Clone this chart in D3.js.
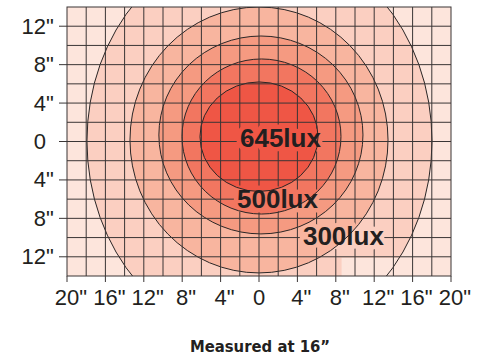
<!DOCTYPE html>
<html><head><meta charset="utf-8">
<script src="https://cdn.jsdelivr.net/npm/d3@7"></script>
<style>body{margin:0;background:#fff}</style>
</head><body><svg id="chart" width="482" height="360"></svg>
<script>
// ---- data ----
const xTickValues = [-20, -16, -12, -8, -4, 0, 4, 8, 12, 16, 20];
const xTickLabels = ['20"', '16"', '12"', '8"', '4"', '0', '4"', '8"', '12"', '16"', '20"'];
const yTickValues = [12, 8, 4, 0, -4, -8, -12];
const yTickLabels = ['12"', '8"', '4"', '0', '4"', '8"', '12"'];
const gridStep = 2; // inches
// iso-lux contours, outer -> inner (inches)
const contourLux = [200, 300, 400, 500, 600];
const contourCx = [0.05, 0.0, 0.2, 0.26, 0.0];
const contourCy = [0.05, 0.16, 0.68, 0.52, 0.5];
const contourRx = [17.97, 13.44, 10.63, 8.28, 6.15];
const contourRy = [20.8, 13.84, 10.3, 8.07, 5.7];
const labelText = ['645lux', '500lux', '300lux'];
const labelX = [-1.98, -2.29, 4.58];
const labelY = [-0.57, -6.92, -10.77];
const patchX = [8.6, 20];
const patchY = [-12.1, -14];
const titleText = 'Measured at 16\u201D';

// ---- styles ----
const bandColors = ['#fde5dc', '#fbcfc1', '#f8b59f', '#f59a81', '#f27660', '#ef5645'];
const ink = '#231f20';
const gridColor = '#3a3535';

const svg = d3.select('#chart');
const W = 482, H = 360;
const plot = {left: 67, right: 451, top: 7, bottom: 276};
const x = d3.scaleLinear().domain([-20, 20]).range([plot.left, plot.right]);
const y = d3.scaleLinear().domain([-14, 14]).range([plot.bottom, plot.top]);

const defs = svg.append('defs');
defs.append('clipPath').attr('id', 'plotClip').append('rect')
  .attr('x', plot.left).attr('y', plot.top)
  .attr('width', plot.right - plot.left).attr('height', plot.bottom - plot.top);

// background band
const g = svg.append('g').attr('clip-path', 'url(#plotClip)');
g.append('rect').attr('x', plot.left).attr('y', plot.top)
  .attr('width', plot.right - plot.left).attr('height', plot.bottom - plot.top)
  .attr('fill', bandColors[0]);

const contours = contourLux.map((v, i) => ({lux: v, cx: contourCx[i], cy: contourCy[i], rx: contourRx[i], ry: contourRy[i], i}));
g.selectAll('ellipse.fill').data(contours).join('ellipse')
  .attr('class', 'fill')
  .attr('cx', d => x(d.cx)).attr('cy', d => y(d.cy))
  .attr('rx', d => x(d.rx) - x(0)).attr('ry', d => y(0) - y(d.ry))
  .attr('fill', d => bandColors[d.i + 1]);

// pale patch (as in source)
g.append('rect')
  .attr('x', x(patchX[0])).attr('y', y(patchY[0]))
  .attr('width', x(patchX[1]) - x(patchX[0])).attr('height', y(patchY[1]) - y(patchY[0]))
  .attr('fill', bandColors[0]);

// label style
const labelFont = {family: 'Liberation Sans, Arial, sans-serif', size: 26, weight: 'bold'};

// grid mask so grid is hidden around labels
const mask = defs.append('mask').attr('id', 'gridMask').attr('maskUnits', 'userSpaceOnUse')
  .attr('x', 0).attr('y', 0).attr('width', W).attr('height', H);
mask.append('rect').attr('width', W).attr('height', H).attr('fill', 'white');
labelText.forEach((t, i) => {
  mask.append('text').text(t)
    .attr('x', x(labelX[i])).attr('y', y(labelY[i]))
    .attr('font-family', labelFont.family).attr('font-size', labelFont.size).attr('font-weight', labelFont.weight)
    .attr('fill', 'black').attr('stroke', 'black').attr('stroke-width', 9).attr('stroke-linejoin', 'round');
});

// grid
const gridG = svg.append('g').attr('mask', 'url(#gridMask)');
const xGrid = d3.range(-20 + gridStep, 20, gridStep);
const yGrid = d3.range(-14 + gridStep, 14, gridStep);
gridG.selectAll('line.vx').data(xGrid).join('line')
  .attr('x1', d => x(d)).attr('x2', d => x(d)).attr('y1', plot.top).attr('y2', plot.bottom)
  .attr('stroke', gridColor).attr('stroke-width', 1);
gridG.selectAll('line.hy').data(yGrid).join('line')
  .attr('y1', d => y(d)).attr('y2', d => y(d)).attr('x1', plot.left).attr('x2', plot.right)
  .attr('stroke', gridColor).attr('stroke-width', 1);

// contour lines
g.selectAll('ellipse.line').data(contours).join('ellipse')
  .attr('class', 'line')
  .attr('cx', d => x(d.cx)).attr('cy', d => y(d.cy))
  .attr('rx', d => x(d.rx) - x(0)).attr('ry', d => y(0) - y(d.ry))
  .attr('fill', 'none').attr('stroke', '#2a2626').attr('stroke-width', 1);

// frame
svg.append('rect').attr('x', plot.left).attr('y', plot.top)
  .attr('width', plot.right - plot.left).attr('height', plot.bottom - plot.top)
  .attr('fill', 'none').attr('stroke', gridColor).attr('stroke-width', 1);

// ticks
svg.selectAll('line.yt').data(yTickValues).join('line')
  .attr('x1', plot.left - 8).attr('x2', plot.left).attr('y1', d => y(d)).attr('y2', d => y(d))
  .attr('stroke', gridColor).attr('stroke-width', 1);
svg.selectAll('line.xt').data(xTickValues).join('line')
  .attr('y1', plot.bottom).attr('y2', plot.bottom + 6).attr('x1', d => x(d)).attr('x2', d => x(d))
  .attr('stroke', gridColor).attr('stroke-width', 1);

// measuring helper
function measure(str, size, family, weight) {
  const t = svg.append('text').text(str).attr('font-size', size).attr('font-family', family)
    .attr('font-weight', weight || 'normal');
  const w = t.node().getComputedTextLength();
  t.remove();
  return w;
}
const tickFamily = 'Liberation Sans, Arial, Helvetica, sans-serif';

// y tick labels: numbers right-aligned, inch mark hanging after
const ySize = 22;
yTickValues.forEach((v, i) => {
  const lab = yTickLabels[i];
  const num = lab.replace('"', '');
  const nw = measure(num, ySize, tickFamily);
  svg.append('text').text(lab)
    .attr('x', 46 - nw).attr('y', y(v) + 7.5)
    .attr('font-size', ySize).attr('font-family', tickFamily).attr('fill', ink);
});

// x tick labels: numbers centered on tick, inch mark hanging after
const xSize = 22;
xTickValues.forEach((v, i) => {
  const lab = xTickLabels[i];
  const num = lab.replace('"', '');
  const nw = measure(num, xSize, tickFamily);
  svg.append('text').text(lab)
    .attr('x', x(v) - nw / 2).attr('y', 305)
    .attr('font-size', xSize).attr('font-family', tickFamily).attr('fill', ink);
});

// contour labels
labelText.forEach((t, i) => {
  svg.append('text').text(t)
    .attr('x', x(labelX[i])).attr('y', y(labelY[i]))
    .attr('font-family', labelFont.family).attr('font-size', labelFont.size).attr('font-weight', labelFont.weight)
    .attr('fill', ink);
});

// title
svg.append('text').text(titleText)
  .attr('x', 260).attr('y', 352).attr('text-anchor', 'middle')
  .attr('font-family', 'Liberation Sans Narrow, DejaVu Sans Condensed, Arial Narrow, sans-serif')
  .attr('font-stretch', 'condensed')
  .attr('font-size', 16.5).attr('font-weight', 'bold').attr('fill', ink);
</script>
</body></html>
